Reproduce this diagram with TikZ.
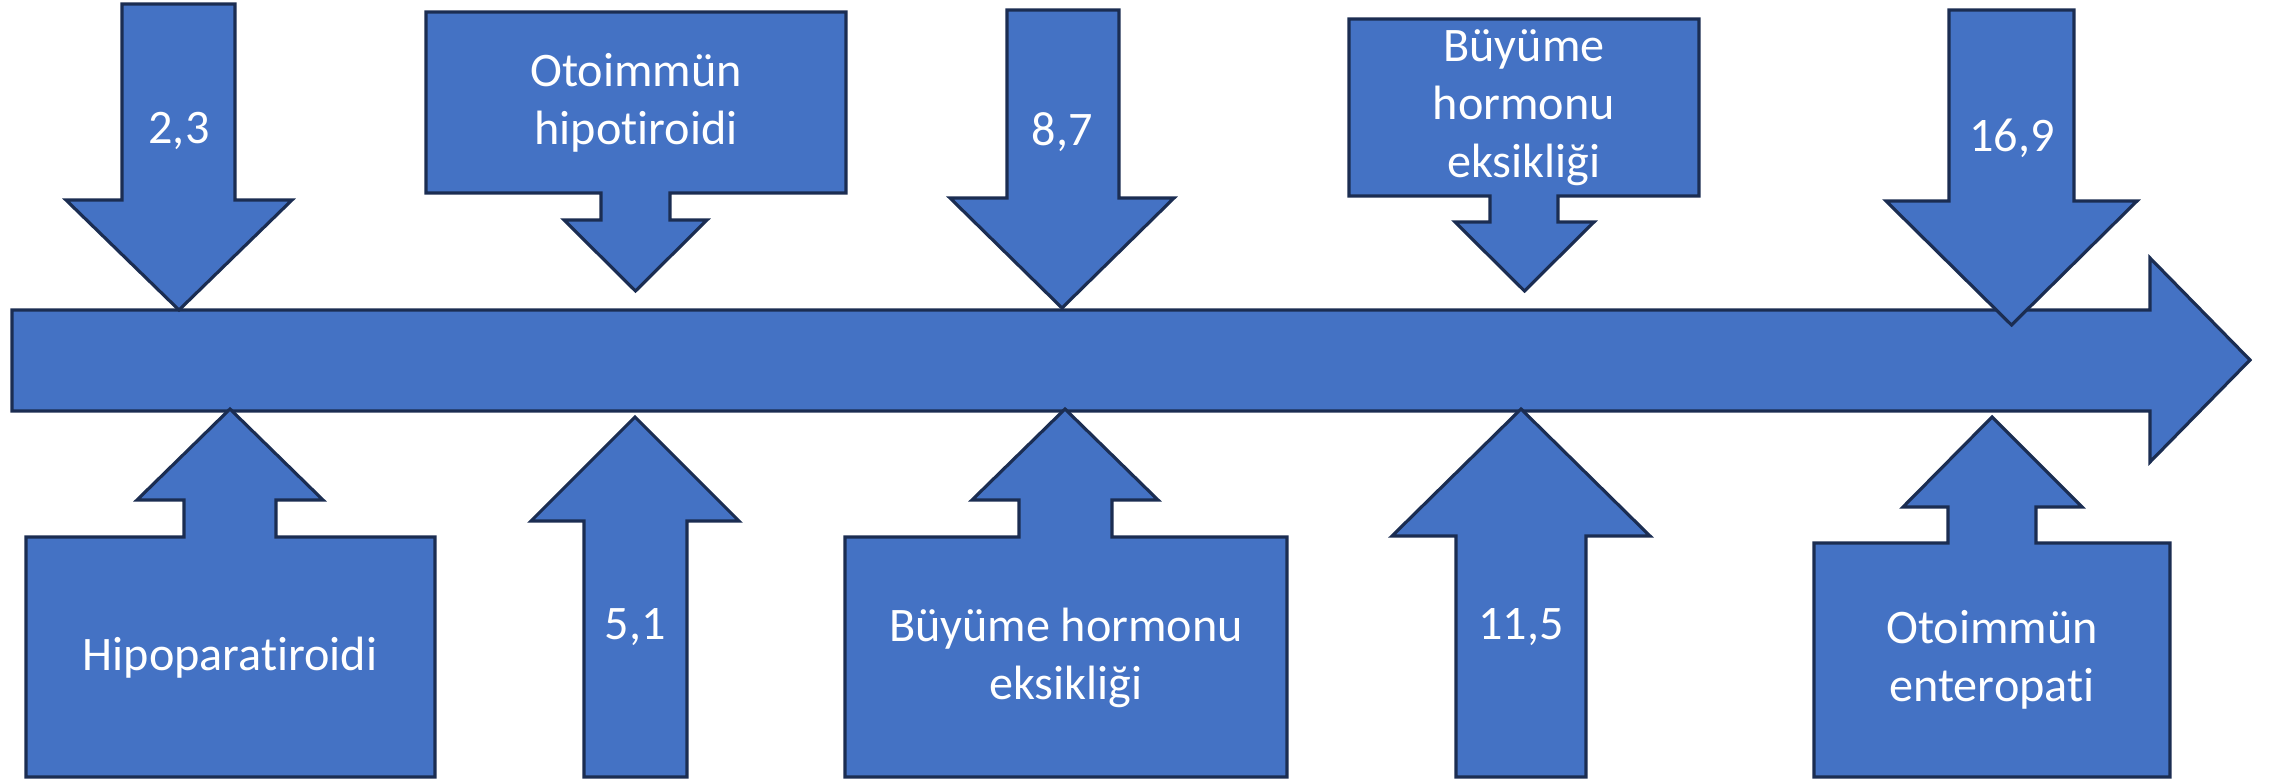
\documentclass[tikz,border=0pt]{standalone}
\usepackage{fontspec}
\setmainfont{Carlito}[Ligatures={NoCommon,NoContextual}]
\definecolor{shapeblue}{HTML}{4472C4}
\definecolor{edgeblue}{HTML}{1B2D52}
\begin{document}
\begin{tikzpicture}[x=0.01cm,y=-0.01cm,
  shp/.style={fill=shapeblue,draw=edgeblue,line width=0.9pt,line join=miter},
  lbl/.style={text=white,align=center,inner sep=0pt,font=\fontsize{13.7}{16.5}\selectfont}]
\useasboundingbox (0,0) rectangle (2269,779);
% main timeline arrow
\path[shp] (12,310) -- (2150,310) -- (2150,258) -- (2250,360) -- (2150,462) -- (2150,411) -- (12,411) -- cycle;
% top: 2,3
\path[shp] (122,4) -- (235,4) -- (235,200) -- (292,200) -- (179,310) -- (66,200) -- (122,200) -- cycle;
\node[lbl] (a23) at (179,131) {2,3};
% top: Otoimmun hipotiroidi callout
\path[shp] (426,12) -- (846,12) -- (846,193) -- (670,193) -- (670,220) -- (707,220) -- (635.5,291) -- (564,220) -- (601,220) -- (601,193) -- (426,193) -- cycle;
\node[lbl] (hipo) at (636,103) {Otoimmün\\hipotiroidi};
% top: 8,7
\path[shp] (1007,10) -- (1119,10) -- (1119,198) -- (1174,198) -- (1062,308) -- (950,198) -- (1007,198) -- cycle;
\node[lbl] (a87) at (1062,132) {8,7};
% top: Buyume callout
\path[shp] (1349,19) -- (1699,19) -- (1699,196) -- (1558,196) -- (1558,222) -- (1594,222) -- (1524.5,291) -- (1455,222) -- (1490,222) -- (1490,196) -- (1349,196) -- cycle;
\node[lbl] (gh1) at (1524,108) {Büyüme\\hormonu\\eksikliği};
% top: 16,9
\path[shp] (1949,10) -- (2074,10) -- (2074,201) -- (2137,201) -- (2011.5,325) -- (1886,201) -- (1949,201) -- cycle;
\node[lbl] (a169) at (2012,138) {16,9};
% bottom: Hipoparatiroidi callout
\path[shp] (26,777) -- (435,777) -- (435,537) -- (276,537) -- (276,500) -- (323,500) -- (230,409) -- (137,500) -- (184,500) -- (184,537) -- (26,537) -- cycle;
\node[lbl] (para) at (230,658) {Hipoparatiroidi};
% bottom: 5,1
\path[shp] (584,777) -- (687,777) -- (687,521) -- (739,521) -- (635,417) -- (531,521) -- (584,521) -- cycle;
\node[lbl] (a51) at (635,627) {5,1};
% bottom: Buyume callout
\path[shp] (845,777) -- (1287,777) -- (1287,537) -- (1112,537) -- (1112,500) -- (1158,500) -- (1065,409) -- (972,500) -- (1019,500) -- (1019,537) -- (845,537) -- cycle;
\node[lbl] (gh2) at (1066,658) {Büyüme hormonu\\eksikliği};
% bottom: 11,5
\path[shp] (1456,777) -- (1586,777) -- (1586,536) -- (1650,536) -- (1521,409) -- (1392,536) -- (1456,536) -- cycle;
\node[lbl] (a115) at (1521,627) {11,5};
% bottom: Otoimmun enteropati callout
\path[shp] (1814,777) -- (2170,777) -- (2170,543) -- (2036,543) -- (2036,507) -- (2082,507) -- (1992,417) -- (1903,507) -- (1948,507) -- (1948,543) -- (1814,543) -- cycle;
\node[lbl] (ent) at (1992,660) {Otoimmün\\enteropati};
\end{tikzpicture}
\end{document}
